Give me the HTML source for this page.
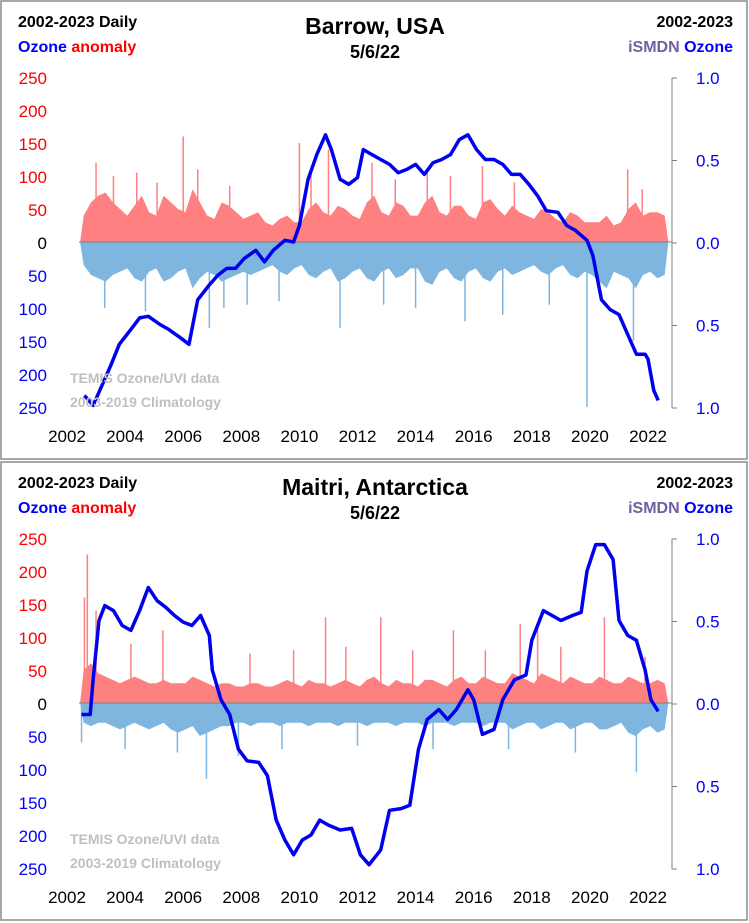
<!DOCTYPE html>
<html><head><meta charset="utf-8"><style>
html,body{margin:0;padding:0;background:#fff}
svg{display:block;font-family:"Liberation Sans",Arial,sans-serif}
</style></head><body>
<svg id="chart" width="749" height="923" viewBox="0 0 749 923" xmlns="http://www.w3.org/2000/svg"></svg>
<script>
// ---- data: Barrow ----
const barrowPosQ=[40,60,70,75,60,50,40,55,70,45,40,70,60,50,45,80,60,40,35,60,55,45,35,40,45,30,25,35,40,30,30,50,60,45,40,55,50,40,35,60,70,45,40,60,55,40,40,60,70,45,40,55,55,40,35,60,65,50,40,55,45,40,35,50,45,35,30,45,40,30,30,30,40,25,30,50,60,40,45,45,40];
const barrowNegQ=[-35,-50,-55,-60,-50,-45,-40,-55,-60,-45,-40,-60,-55,-45,-40,-70,-55,-45,-50,-60,-55,-50,-45,-50,-45,-40,-35,-45,-50,-40,-35,-50,-55,-45,-40,-60,-55,-45,-40,-55,-60,-45,-40,-55,-50,-40,-40,-60,-65,-45,-40,-55,-60,-45,-40,-55,-60,-45,-40,-50,-45,-40,-35,-45,-50,-40,-35,-50,-55,-45,-50,-60,-70,-45,-50,-55,-70,-50,-45,-55,-50];
const barrowSpikeX=[2003.0,2003.6,2004.4,2005.1,2006.0,2006.5,2007.6,2010.0,2010.4,2011.0,2012.5,2013.3,2014.4,2015.2,2016.3,2017.4,2021.3,2021.8,2003.3,2004.7,2006.9,2007.4,2008.2,2009.3,2011.4,2012.9,2014.0,2015.7,2017.0,2018.6,2019.9,2021.5];
const barrowSpikeV=[120,100,105,90,160,110,85,150,110,140,120,95,110,100,115,90,110,80,-100,-105,-130,-100,-95,-90,-130,-95,-100,-120,-110,-95,-250,-150];
const barrowLineX=[2002.6,2002.9,2003.2,2003.5,2003.8,2004.2,2004.5,2004.8,2005.2,2005.5,2005.9,2006.2,2006.5,2006.9,2007.2,2007.5,2007.8,2008.1,2008.5,2008.8,2009.1,2009.5,2009.8,2010.0,2010.3,2010.6,2010.9,2011.1,2011.4,2011.7,2012.0,2012.2,2012.5,2012.8,2013.1,2013.4,2013.7,2014.0,2014.3,2014.6,2014.9,2015.2,2015.5,2015.8,2016.1,2016.4,2016.7,2017.0,2017.3,2017.6,2017.9,2018.2,2018.5,2018.9,2019.2,2019.5,2019.9,2020.1,2020.4,2020.7,2021.0,2021.3,2021.6,2021.9,2022.0,2022.2,2022.35];
const barrowLineY=[-0.93,-0.99,-0.87,-0.75,-0.62,-0.53,-0.46,-0.45,-0.50,-0.53,-0.58,-0.62,-0.35,-0.26,-0.20,-0.16,-0.16,-0.10,-0.05,-0.12,-0.05,0.01,0.0,0.10,0.38,0.53,0.65,0.56,0.38,0.35,0.39,0.56,0.53,0.50,0.47,0.42,0.44,0.47,0.41,0.48,0.50,0.53,0.62,0.65,0.56,0.50,0.50,0.47,0.41,0.41,0.35,0.28,0.19,0.18,0.10,0.07,0.01,-0.08,-0.35,-0.41,-0.44,-0.56,-0.68,-0.68,-0.71,-0.90,-0.96];
// ---- data: Maitri ----
const maitriPosQ=[50,60,45,40,35,30,35,40,35,30,30,35,30,30,30,40,35,30,25,30,30,25,25,30,30,25,25,30,35,30,25,35,30,30,25,30,35,30,25,35,40,30,25,35,30,30,25,35,35,30,25,35,40,30,30,40,35,30,30,45,40,35,30,45,40,35,30,40,35,30,30,40,35,30,30,40,35,30,30,35,30];
const maitriNegQ=[-30,-35,-30,-30,-35,-40,-35,-30,-35,-40,-35,-30,-40,-45,-40,-35,-50,-45,-40,-35,-35,-30,-30,-35,-30,-30,-30,-35,-30,-30,-30,-35,-30,-30,-30,-35,-30,-30,-30,-35,-30,-30,-30,-35,-30,-30,-30,-35,-30,-30,-30,-35,-30,-30,-30,-35,-30,-30,-30,-40,-35,-30,-30,-40,-35,-30,-30,-40,-35,-30,-30,-40,-40,-35,-30,-45,-50,-40,-35,-45,-40];
const maitriSpikeX=[2002.6,2002.7,2003.0,2004.2,2005.3,2008.3,2009.8,2010.9,2011.6,2012.8,2013.9,2015.3,2016.4,2017.6,2018.2,2019.0,2020.5,2021.9,2006.8,2021.6,2009.4,2002.5,2004.0,2005.8,2007.9,2012.0,2014.6,2017.2,2019.5];
const maitriSpikeV=[160,225,140,90,110,75,80,130,85,130,80,110,80,120,115,85,130,70,-115,-105,-70,-60,-70,-75,-80,-65,-70,-70,-75];
const maitriLineX=[2002.5,2002.8,2002.9,2003.1,2003.3,2003.6,2003.9,2004.2,2004.5,2004.8,2005.1,2005.4,2005.7,2006.0,2006.3,2006.6,2006.9,2007.0,2007.3,2007.6,2007.9,2008.2,2008.6,2008.9,2009.2,2009.5,2009.8,2010.1,2010.4,2010.7,2011.0,2011.4,2011.8,2012.1,2012.4,2012.8,2013.1,2013.5,2013.8,2014.1,2014.4,2014.8,2015.1,2015.4,2015.8,2016.0,2016.3,2016.7,2017.0,2017.4,2017.8,2018.0,2018.4,2018.7,2019.0,2019.4,2019.7,2019.9,2020.2,2020.5,2020.8,2021.0,2021.3,2021.6,2021.9,2022.1,2022.35];
const maitriLineY=[-0.07,-0.07,0.14,0.50,0.59,0.56,0.47,0.44,0.56,0.70,0.62,0.58,0.53,0.49,0.47,0.53,0.41,0.20,0.02,-0.07,-0.28,-0.35,-0.36,-0.44,-0.71,-0.83,-0.92,-0.83,-0.80,-0.71,-0.74,-0.77,-0.76,-0.92,-0.98,-0.89,-0.65,-0.64,-0.62,-0.28,-0.10,-0.04,-0.10,-0.04,0.08,0.02,-0.19,-0.16,0.02,0.14,0.17,0.38,0.56,0.53,0.50,0.53,0.55,0.80,0.96,0.96,0.87,0.50,0.41,0.38,0.20,0.02,-0.05];
const yearTicks=[2002,2004,2006,2008,2010,2012,2014,2016,2018,2020,2022];
const leftTicks=[250,200,150,100,50,0,50,100,150,200,250];
const rightTicks=["1.0","0.5","0.0","0.5","1.0"];

const NS="http://www.w3.org/2000/svg";
const svg=document.getElementById('chart');
function mk(tag,attrs,parent,text){const e=document.createElementNS(NS,tag);for(const k in attrs)e.setAttribute(k,attrs[k]);if(text!==undefined)e.textContent=text;(parent||svg).appendChild(e);return e;}
const xS=y=>67+(y-2002)*29.05;

function panel(oy,title,posQ,negQ,spX,spV,lnX,lnY,pname){
  const g=mk('g',{});
  
  
  const z=oy+242, k=165/250;
  const yA=v=>z-v*k, yR=v=>z-v*165;
  const fr=mk('rect',{x:1,y:oy+1,width:746,height:458,fill:'#fff',stroke:'#8c8c8c','stroke-width':1.5},g);
  
  const t0=2002.45,dt=0.25;
  let pp=`M${xS(t0)},${z}`,np=`M${xS(t0)},${z}`;
  posQ.forEach((v,i)=>{pp+=`L${xS(t0+(i+0.5)*dt).toFixed(1)},${yA(v).toFixed(1)}`;});
  negQ.forEach((v,i)=>{np+=`L${xS(t0+(i+0.5)*dt).toFixed(1)},${yA(v).toFixed(1)}`;});
  pp+=`L${xS(t0+posQ.length*dt)},${z}Z`;np+=`L${xS(t0+negQ.length*dt)},${z}Z`;
  const pa=mk('path',{d:pp,fill:'#ff8080'},g);
  const na=mk('path',{d:np,fill:'#7fb6e0'},g);
  spX.forEach((x,i)=>{const l=mk('line',{x1:xS(x),x2:xS(x),y1:z,y2:yA(spV[i]),stroke:spV[i]>0?'#ff8080':'#7fb6e0','stroke-width':1.5},g);
    });
  const za=mk('line',{x1:79,x2:672,y1:z,y2:z,stroke:'#7f7f7f','stroke-width':1},g);
  const ra=mk('line',{x1:672,x2:672,y1:oy+78,y2:oy+408,stroke:'#7f7f7f'},g);
  rightTicks.forEach((t,i)=>{const y=oy+78+i*82.5;mk('line',{x1:672,x2:677,y1:y,y2:y,stroke:'#7f7f7f'},g);
    const tx=mk('text',{x:696,y:y+6,'font-size':17,fill:'#0000ff'},g,t);});
  leftTicks.forEach((t,i)=>{const y=oy+78+i*(330/10);
    const tx=mk('text',{x:47,y:y+6,'font-size':17,'text-anchor':'end',fill:i<5?'#ff0000':(i==5?'#000':'#0000ff')},g,t);});
  yearTicks.forEach(t=>{const tx=mk('text',{x:xS(t),y:oy+442,'font-size':17,'text-anchor':'middle'},g,t);});
  const d=lnX.map((x,i)=>(i?'L':'M')+xS(x).toFixed(1)+','+yR(lnY[i]).toFixed(1)).join('');
  const ln=mk('path',{d:d,fill:'none',stroke:'#0000ee','stroke-width':3.5,'stroke-linejoin':'round'},g);
  const w1=mk('text',{x:70,y:oy+383,'font-size':14,'font-weight':'bold',fill:'#bfbfbf'},g,'TEMIS Ozone/UVI data');
  const w2=mk('text',{x:70,y:oy+407,'font-size':14,'font-weight':'bold',fill:'#bfbfbf'},g,'2003-2019 Climatology');
  const ti=mk('text',{x:375,y:oy+34,'font-size':23,'font-weight':'bold','text-anchor':'middle'},g,title);
  const da=mk('text',{x:375,y:oy+58,'font-size':18,'font-weight':'bold','text-anchor':'middle'},g,'5/6/22');
  const l1=mk('text',{x:18,y:oy+27,'font-size':16,'font-weight':'bold'},g,'2002-2023 Daily');
  const l2=mk('text',{x:18,y:oy+52,'font-size':16,'font-weight':'bold'},g);
  mk('tspan',{fill:'#0000ff'},l2,'Ozone ');mk('tspan',{fill:'#ff0000'},l2,'anomaly');
  const r1=mk('text',{x:733,y:oy+27,'font-size':16,'font-weight':'bold','text-anchor':'end'},g,'2002-2023');
  const r2=mk('text',{x:733,y:oy+52,'font-size':16,'font-weight':'bold','text-anchor':'end'},g);
  mk('tspan',{fill:'#7060a0'},r2,'iSMDN ');mk('tspan',{fill:'#0000ff'},r2,'Ozone');
}
panel(0,'Barrow, USA',barrowPosQ,barrowNegQ,barrowSpikeX,barrowSpikeV,barrowLineX,barrowLineY,'barrow');
panel(461,'Maitri, Antarctica',maitriPosQ,maitriNegQ,maitriSpikeX,maitriSpikeV,maitriLineX,maitriLineY,'maitri');
</script>
</body></html>
